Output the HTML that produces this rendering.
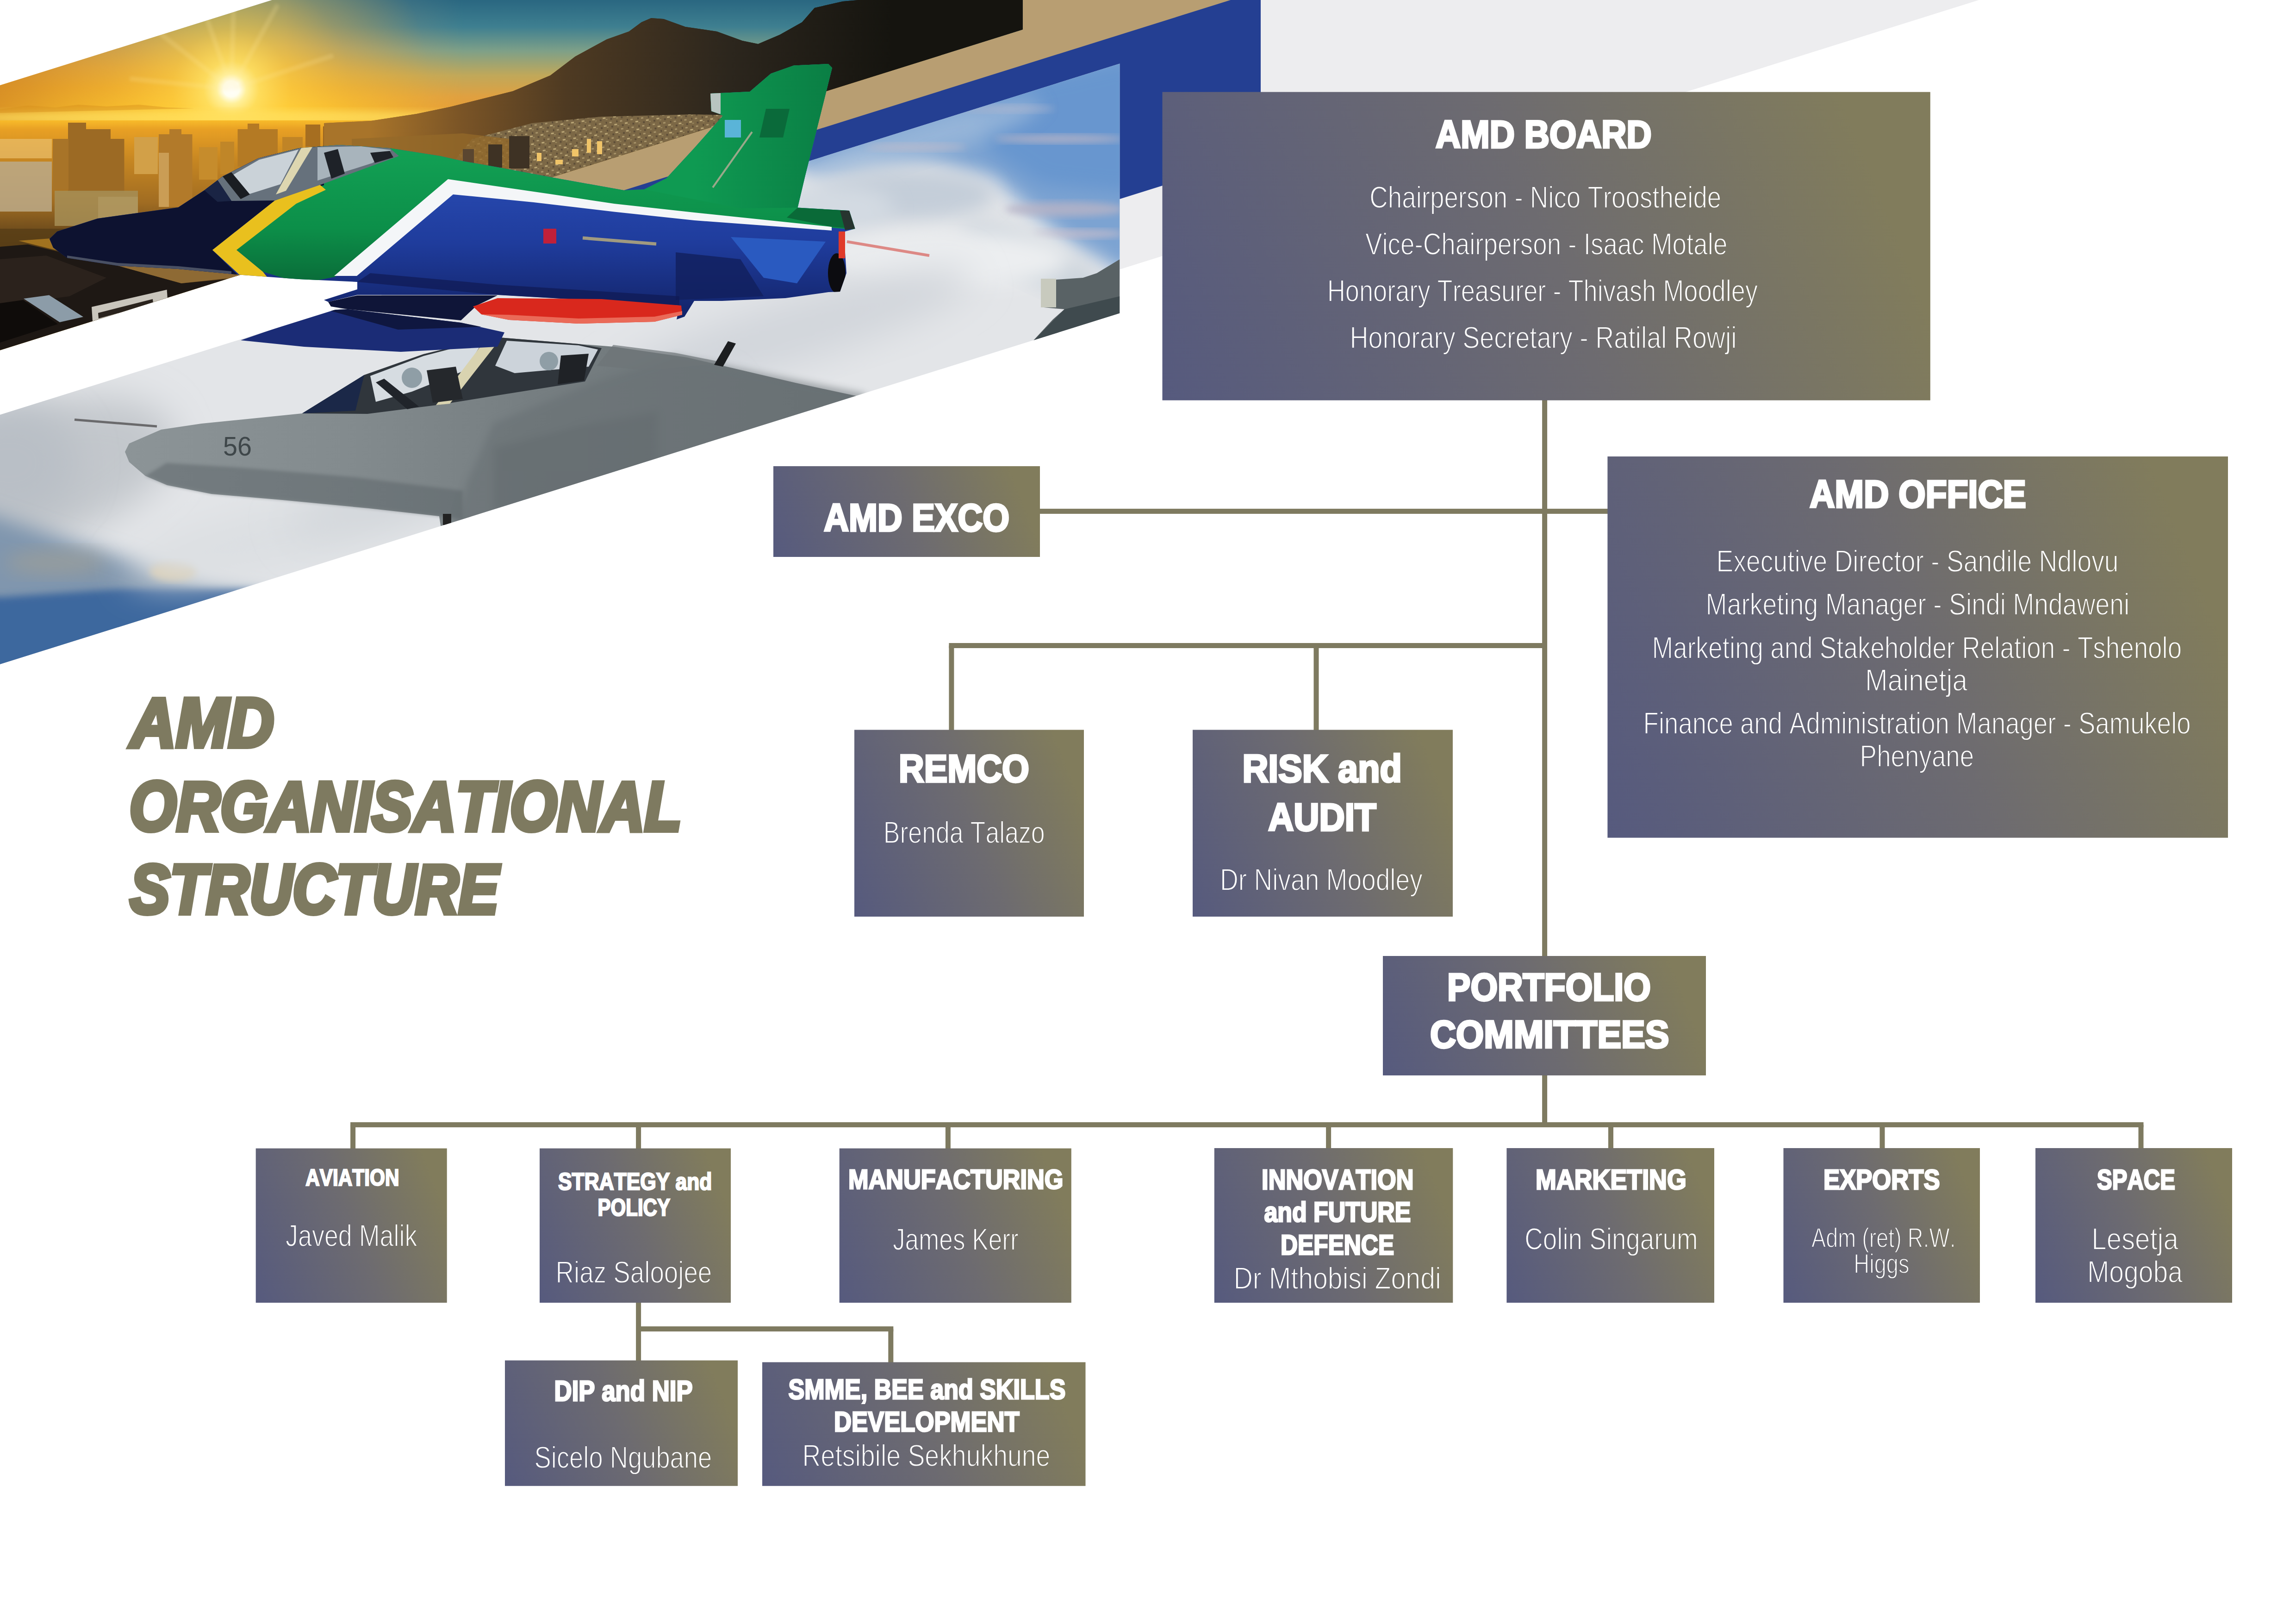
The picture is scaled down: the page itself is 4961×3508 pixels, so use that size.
<!DOCTYPE html>
<html><head><meta charset="utf-8"><title>AMD Organisational Structure</title>
<style>
html,body{margin:0;padding:0;background:#fff;}
body{width:4961px;height:3508px;overflow:hidden;font-family:"Liberation Sans",sans-serif;}
svg{display:block;font-family:"Liberation Sans",sans-serif;}
text{font-kerning:none;font-variant-ligatures:none;}
.tb{font-weight:bold;fill:#fff;stroke:#fff;stroke-linejoin:miter;}
.tr{font-weight:normal;fill:#fff;stroke-width:1.8px;}
.tt{font-weight:bold;font-style:italic;fill:#7e7a60;stroke:#7e7a60;stroke-width:10px;stroke-linejoin:miter;}
</style></head><body>
<svg width="4961" height="3508" viewBox="0 0 4961 3508">
<defs>
<linearGradient id="g_board" gradientUnits="userSpaceOnUse" x1="2512.3" y1="866.6" x2="4170.0" y2="196.8"><stop offset="0" stop-color="#565a7e"/><stop offset="0.5" stop-color="#6d6b70"/><stop offset="0.9" stop-color="#817c5c"/></linearGradient>
<linearGradient id="g_exco" gradientUnits="userSpaceOnUse" x1="1677.4" y1="1218.8" x2="2240.6" y2="991.2"><stop offset="0" stop-color="#565a7e"/><stop offset="0.5" stop-color="#6d6b70"/><stop offset="0.9" stop-color="#817c5c"/></linearGradient>
<linearGradient id="g_office" gradientUnits="userSpaceOnUse" x1="3424.4" y1="1688.4" x2="4863.0" y2="1107.2"><stop offset="0" stop-color="#565a7e"/><stop offset="0.5" stop-color="#6d6b70"/><stop offset="0.9" stop-color="#817c5c"/></linearGradient>
<linearGradient id="g_remco" gradientUnits="userSpaceOnUse" x1="1810.7" y1="1892.7" x2="2377.3" y2="1663.8"><stop offset="0" stop-color="#565a7e"/><stop offset="0.5" stop-color="#6d6b70"/><stop offset="0.9" stop-color="#817c5c"/></linearGradient>
<linearGradient id="g_risk" gradientUnits="userSpaceOnUse" x1="2546.4" y1="1904.2" x2="3169.6" y2="1652.3"><stop offset="0" stop-color="#565a7e"/><stop offset="0.5" stop-color="#6d6b70"/><stop offset="0.9" stop-color="#817c5c"/></linearGradient>
<linearGradient id="g_port" gradientUnits="userSpaceOnUse" x1="2992.2" y1="2333.3" x2="3681.8" y2="2054.7"><stop offset="0" stop-color="#565a7e"/><stop offset="0.5" stop-color="#6d6b70"/><stop offset="0.9" stop-color="#817c5c"/></linearGradient>
<linearGradient id="g_avi" gradientUnits="userSpaceOnUse" x1="523.8" y1="2742.4" x2="994.6" y2="2552.2"><stop offset="0" stop-color="#565a7e"/><stop offset="0.5" stop-color="#6d6b70"/><stop offset="0.9" stop-color="#817c5c"/></linearGradient>
<linearGradient id="g_strat" gradientUnits="userSpaceOnUse" x1="1137.1" y1="2742.4" x2="1607.9" y2="2552.2"><stop offset="0" stop-color="#565a7e"/><stop offset="0.5" stop-color="#6d6b70"/><stop offset="0.9" stop-color="#817c5c"/></linearGradient>
<linearGradient id="g_manu" gradientUnits="userSpaceOnUse" x1="1791.0" y1="2757.7" x2="2337.5" y2="2536.9"><stop offset="0" stop-color="#565a7e"/><stop offset="0.5" stop-color="#6d6b70"/><stop offset="0.9" stop-color="#817c5c"/></linearGradient>
<linearGradient id="g_inno" gradientUnits="userSpaceOnUse" x1="2602.0" y1="2760.0" x2="3161.1" y2="2534.0"><stop offset="0" stop-color="#565a7e"/><stop offset="0.5" stop-color="#6d6b70"/><stop offset="0.9" stop-color="#817c5c"/></linearGradient>
<linearGradient id="g_mark" gradientUnits="userSpaceOnUse" x1="3228.9" y1="2748.3" x2="3730.5" y2="2545.7"><stop offset="0" stop-color="#565a7e"/><stop offset="0.5" stop-color="#6d6b70"/><stop offset="0.9" stop-color="#817c5c"/></linearGradient>
<linearGradient id="g_exp" gradientUnits="userSpaceOnUse" x1="3825.3" y1="2744.2" x2="4306.2" y2="2549.8"><stop offset="0" stop-color="#565a7e"/><stop offset="0.5" stop-color="#6d6b70"/><stop offset="0.9" stop-color="#817c5c"/></linearGradient>
<linearGradient id="g_space" gradientUnits="userSpaceOnUse" x1="4369.8" y1="2744.2" x2="4851.2" y2="2549.8"><stop offset="0" stop-color="#565a7e"/><stop offset="0.5" stop-color="#6d6b70"/><stop offset="0.9" stop-color="#817c5c"/></linearGradient>
<linearGradient id="g_dip" gradientUnits="userSpaceOnUse" x1="1079.2" y1="3180.6" x2="1605.8" y2="2967.8"><stop offset="0" stop-color="#565a7e"/><stop offset="0.5" stop-color="#6d6b70"/><stop offset="0.9" stop-color="#817c5c"/></linearGradient>
<linearGradient id="g_smme" gradientUnits="userSpaceOnUse" x1="1649.6" y1="3216.2" x2="2342.9" y2="2936.1"><stop offset="0" stop-color="#565a7e"/><stop offset="0.5" stop-color="#6d6b70"/><stop offset="0.9" stop-color="#817c5c"/></linearGradient>
</defs>
<rect width="4961" height="3508" fill="#fff"/>
<defs>
<clipPath id="cTop"><polygon points="0,184.3 588,0 2209.7,0 2209.7,63.8 0,756.5"/></clipPath>
<clipPath id="cLow"><polygon points="0,896 2419.3,137.5 2419.3,676.5 0,1434.8"/></clipPath>
<linearGradient id="skyL" gradientUnits="userSpaceOnUse" x1="0" y1="0" x2="0" y2="262">
<stop offset="0" stop-color="#5a7f86"/><stop offset="0.2" stop-color="#7e8c7c"/><stop offset="0.38" stop-color="#b09a6a"/><stop offset="0.55" stop-color="#d8a64c"/>
<stop offset="0.72" stop-color="#f0b232"/><stop offset="0.88" stop-color="#fcc62e"/><stop offset="1" stop-color="#ffd83e"/></linearGradient>
<linearGradient id="skyR" gradientUnits="userSpaceOnUse" x1="0" y1="0" x2="0" y2="262">
<stop offset="0" stop-color="#2a6781"/><stop offset="0.22" stop-color="#3e7f90"/><stop offset="0.42" stop-color="#7ea088"/><stop offset="0.62" stop-color="#c0a85a"/><stop offset="0.8" stop-color="#e0a040"/><stop offset="1" stop-color="#e89a30"/></linearGradient>
<linearGradient id="mH" gradientUnits="userSpaceOnUse" x1="620" y1="0" x2="1000" y2="0"><stop offset="0" stop-color="#000"/><stop offset="1" stop-color="#fff"/></linearGradient>
<mask id="mRight" maskUnits="userSpaceOnUse" x="0" y="0" width="2300" height="800"><rect x="0" y="0" width="2300" height="800" fill="url(#mH)"/></mask>
<linearGradient id="leftO" gradientUnits="userSpaceOnUse" x1="0" y1="0" x2="430" y2="0"><stop offset="0" stop-color="#d08422" stop-opacity="0.75"/><stop offset="1" stop-color="#e09a28" stop-opacity="0"/></linearGradient>
<radialGradient id="sun" gradientUnits="userSpaceOnUse" cx="500" cy="192" r="430">
<stop offset="0" stop-color="#ffffff"/><stop offset="0.04" stop-color="#fffef0"/><stop offset="0.075" stop-color="#fff09a"/><stop offset="0.14" stop-color="#ffe060" stop-opacity="0.9"/>
<stop offset="0.3" stop-color="#ffd040" stop-opacity="0.6"/><stop offset="0.6" stop-color="#fcc030" stop-opacity="0.25"/><stop offset="1" stop-color="#f8b020" stop-opacity="0"/></radialGradient>
<linearGradient id="cityV" gradientUnits="userSpaceOnUse" x1="0" y1="255" x2="0" y2="560">
<stop offset="0" stop-color="#fcc22c"/><stop offset="0.08" stop-color="#e8a024"/><stop offset="0.3" stop-color="#c68622"/><stop offset="0.6" stop-color="#a06c22"/><stop offset="0.8" stop-color="#6e4c1c"/><stop offset="1" stop-color="#5a3e18"/></linearGradient>
<linearGradient id="mtn" gradientUnits="userSpaceOnUse" x1="800" y1="0" x2="2210" y2="0">
<stop offset="0" stop-color="#a8742a"/><stop offset="0.14" stop-color="#7a5426"/><stop offset="0.3" stop-color="#4e3a22"/><stop offset="0.55" stop-color="#2c261d"/><stop offset="0.8" stop-color="#15140f"/></linearGradient>
<linearGradient id="mtnV" gradientUnits="userSpaceOnUse" x1="0" y1="40" x2="0" y2="330">
<stop offset="0" stop-color="#1a1510" stop-opacity="0.5"/><stop offset="0.55" stop-color="#5a4020" stop-opacity="0.05"/><stop offset="1" stop-color="#a88040" stop-opacity="0.5"/></linearGradient>
<pattern id="lights" width="23" height="17" patternUnits="userSpaceOnUse" patternTransform="rotate(-8)">
<rect width="23" height="17" fill="#7c6846"/><rect x="2" y="2" width="5" height="3" fill="#a8946a"/><rect x="12" y="8" width="6" height="3" fill="#bca878"/><rect x="17" y="1" width="3" height="4" fill="#5c4c36"/><rect x="5" y="11" width="4" height="4" fill="#5e4e38"/><rect x="18" y="12" width="4" height="2" fill="#9c8a60"/></pattern>
<filter id="b8" x="-20%" y="-20%" width="140%" height="140%"><feGaussianBlur stdDeviation="8"/></filter>
<filter id="b20" x="-30%" y="-30%" width="160%" height="160%"><feGaussianBlur stdDeviation="20"/></filter>
<filter id="b40" x="-40%" y="-40%" width="180%" height="180%"><feGaussianBlur stdDeviation="40"/></filter>
<filter id="b3" x="-10%" y="-10%" width="120%" height="120%"><feGaussianBlur stdDeviation="3"/></filter>
<linearGradient id="greyjet" gradientUnits="userSpaceOnUse" x1="270" y1="0" x2="1860" y2="0">
<stop offset="0" stop-color="#8c9497"/><stop offset="0.3" stop-color="#838b8e"/><stop offset="0.55" stop-color="#767e81"/><stop offset="1" stop-color="#6a7275"/></linearGradient>
<linearGradient id="blueBody" gradientUnits="userSpaceOnUse" x1="0" y1="400" x2="0" y2="680">
<stop offset="0" stop-color="#2748ae"/><stop offset="0.45" stop-color="#1f3c9c"/><stop offset="1" stop-color="#13246a"/></linearGradient>
<linearGradient id="greenBody" gradientUnits="userSpaceOnUse" x1="0" y1="330" x2="0" y2="600">
<stop offset="0" stop-color="#12a054"/><stop offset="0.6" stop-color="#0c8f49"/><stop offset="1" stop-color="#0a6f3a"/></linearGradient>
<linearGradient id="finG" gradientUnits="userSpaceOnUse" x1="1500" y1="0" x2="1800" y2="0">
<stop offset="0" stop-color="#0f9a52"/><stop offset="1" stop-color="#0a7e44"/></linearGradient>
<clipPath id="cJet"><path id="jetShape" d="M107,516 L123.5,500 L211,472 L385,448 L441.5,411 L481,381 L559,341.5 L646,320 L733,313 L842,320 L951,337 L1000,348 L1080,362 L1191.6,383 L1348,411 L1392,409 L1440,385 L1500,320 L1562,250 L1554,246 L1537,240 L1535,202 L1620,198 L1665.5,159 L1715,141.6 L1789.7,138 L1798,146.6 L1740,378.7 L1723.5,448.6 L1835,455 L1847.6,494 L1826,500 L1826,545 L1829,590 L1815,630 L1790,631 L1697,644 L1560,650 L1500,650 L1479,684 L1462,690 L1468,660 L1075,637 L772,637 L709,652 L700,648 L772,625 L772,609 L646,603 L524,594 L385,581 L254,574 L145,557 L115,535 Z"/></clipPath>
</defs>

<!-- stripes -->
<polygon points="2419.3,0 4276,0 2419.3,582" fill="#ededef"/>
<polygon points="1240,0 2724,0 2724,334.5 1240,799.8" fill="#243f92"/>
<polygon points="1150,0 2659,0 1150,473" fill="#b89e72"/>

<!-- TOP BAND -->
<g clip-path="url(#cTop)">
<rect x="0" y="0" width="2210" height="770" fill="url(#skyL)"/>
<rect x="0" y="0" width="440" height="262" fill="url(#leftO)"/>
<rect x="0" y="0" width="2210" height="770" fill="url(#skyR)" mask="url(#mRight)"/>
<rect x="60" y="0" width="900" height="640" fill="url(#sun)"/>
<g stroke="#ffe9a0" stroke-width="10" opacity="0.2" filter="url(#b3)"><path d="M500,192 L440,20"/><path d="M500,192 L505,0"/><path d="M500,192 L600,10"/><path d="M500,192 L330,60"/><path d="M500,192 L720,120"/><path d="M500,192 L280,170"/></g>
<ellipse cx="470" cy="254" rx="640" ry="16" fill="#ffe060" opacity="0.7" filter="url(#b8)"/>
<path d="M0,236 L60,228 L120,232 L170,226 L230,230 L300,226 L360,232 L420,234 L0,244 Z" fill="#d8901c" opacity="0.45"/>
<!-- city -->
<rect x="0" y="260" width="1250" height="510" fill="url(#cityV)"/>
<rect x="0" y="300" width="112" height="42" fill="#e8bc68" opacity="0.75"/>
<g>
<path d="M147,416 V265 H186 V279 H239 V300 H268.5 V416 Z" fill="#9c6a24"/><rect x="114" y="300" width="34" height="110" fill="#a87428"/>
<path d="M343,447 V290 H366 V279 H392 V290 H415.5 V447 Z" fill="#b27a2a"/><rect x="343" y="330" width="22" height="117" fill="#cfa660" opacity="0.8"/>
<rect x="290" y="296" width="51" height="80" fill="#d2a048"/>
<path d="M513.5,360 V279 H535 V267 H560 V279 H600 V360 Z" fill="#b47a24"/>
<rect x="476" y="306" width="30" height="70" fill="#c08628"/><rect x="430" y="318" width="40" height="70" fill="#c68c2c"/>
<rect x="660" y="269" width="32" height="48" fill="#a66e20"/><rect x="698" y="273" width="47" height="44" fill="#9a641e"/>
<rect x="610" y="296" width="44" height="40" fill="#c08426"/><rect x="760" y="290" width="50" height="30" fill="#b47a24"/>
<rect x="890" y="276" width="72" height="56" fill="#6e4e24"/><rect x="973" y="302" width="38" height="38" fill="#7e5e32"/>
</g>
<rect x="0" y="349" width="112" height="108" fill="#bcaa88" opacity="0.85"/>
<rect x="118" y="412" width="180" height="76" fill="#a68e56" opacity="0.85"/>
<rect x="212" y="425" width="86" height="62" fill="#b29a62" opacity="0.7"/>
<path d="M0,494 H1000 V560 H0 Z" fill="#553c16" opacity="0.75"/>
<path d="M40,520 L250,505 L392,560 L392,612 L251,573 Z" fill="#a87820" opacity="0.9"/>
<!-- mountain -->
<path id="mt" d="M700,266 L802,261 L900,246 L972,231 L1040,214 L1108,197 L1189,163 L1243,122 L1311,85 L1359,68 L1386,48 L1407,39 L1434,41 L1481,58 L1549,68 L1604,88 L1638,95 L1685,75 L1733,48 L1760,17 L1821,3 L1855,0 L2210,0 L2210,420 L700,420 Z" fill="url(#mtn)"/>
<use href="#mt" fill="url(#mtnV)"/>
<path d="M1020,300 L1150,266 L1300,252 L1500,247 L1700,252 L1800,238 L1800,450 L900,450 Z" fill="url(#lights)"/>
<path d="M760,300 L1000,288 L1100,300 L1100,480 L760,480 Z" fill="#94692a" opacity="0.75"/>
<g fill="#3e3224"><rect x="1100" y="294" width="44" height="70"/><rect x="1055" y="312" width="30" height="50"/><rect x="1000" y="322" width="24" height="40" fill="#5a4630"/></g>
<g fill="#f0c468"><rect x="1268" y="300" width="9" height="30"/><rect x="1290" y="305" width="11" height="28"/><rect x="1160" y="330" width="10" height="18"/><rect x="1236" y="322" width="14" height="16"/><rect x="1200" y="345" width="16" height="10"/></g>
<!-- dark roofs -->
<path d="M0,533 L60,528 L251,573 L392,612 L520,600 L520,770 L0,770 Z" fill="#1e1814"/>
<path d="M251,573 L392,612 L521,598 L521,575 L400,566 L300,560 Z" fill="#8e6a34"/>
<path d="M0,560 L100,552 L230,600 L150,640 L0,660 Z" fill="#2b221c"/>
<path d="M51,645 L106,637.5 L180,684.5 L129,696 Z" fill="#8c9ca8"/>
<path d="M198,663 L360.6,625.7 L362,646 L200,694 Z" fill="#c9c5bc"/>
<path d="M212,676 L330,646 L331,656 L213,688 Z" fill="#2a231d"/>
<path d="M0,655 L50,648 L125,700 L0,740 Z" fill="#0f0c0a"/>
</g>

<!-- LOWER BAND -->
<g clip-path="url(#cLow)">
<rect x="0" y="130" width="2420" height="1310" fill="#e3e5e8"/>
<!-- sky upper right -->
<path d="M1640,300 L2460,40 L2460,610 L2380,560 L2300,515 L2210,440 L2150,385 L2000,345 L1870,335 L1745,372 Z" fill="#7ba3d2" filter="url(#b20)"/>
<path d="M2100,200 L2460,120 L2460,420 L2250,400 L2140,330 Z" fill="#6896cf" filter="url(#b20)"/>
<ellipse cx="2000" cy="300" rx="260" ry="40" fill="#9cb9da" opacity="0.8" filter="url(#b20)" transform="rotate(-17 2000 300)"/>
<ellipse cx="2290" cy="300" rx="140" ry="9" fill="#bcb6c6" opacity="0.8" filter="url(#b8)"/>
<ellipse cx="2300" cy="452" rx="130" ry="16" fill="#b8b4c6" opacity="0.8" filter="url(#b8)"/>
<ellipse cx="2330" cy="505" rx="100" ry="10" fill="#c2bccc" opacity="0.8" filter="url(#b8)"/>
<ellipse cx="1980" cy="318" rx="110" ry="8" fill="#c0bccb" opacity="0.7" filter="url(#b8)"/>
<ellipse cx="2180" cy="235" rx="100" ry="8" fill="#b6bacf" opacity="0.6" filter="url(#b8)"/>
<ellipse cx="1960" cy="420" rx="190" ry="55" fill="#c4ced9" filter="url(#b20)"/>
<ellipse cx="2230" cy="560" rx="170" ry="45" fill="#ccd4dc" filter="url(#b20)" transform="rotate(25 2230 560)"/>
<ellipse cx="1800" cy="450" rx="130" ry="50" fill="#d3dae2" filter="url(#b20)"/>
<ellipse cx="2050" cy="560" rx="260" ry="60" fill="#eceef0" filter="url(#b20)"/>
<ellipse cx="1700" cy="720" rx="420" ry="70" fill="#d2d6db" filter="url(#b40)" transform="rotate(-17 1700 720)"/>
<!-- left: shading, haze, ocean -->
<ellipse cx="60" cy="1030" rx="330" ry="150" fill="#c3c7cc" filter="url(#b40)" transform="rotate(-17 60 1030)"/>
<ellipse cx="20" cy="1000" rx="150" ry="130" fill="#b9bfc6" filter="url(#b40)"/>
<path d="M-80,1090 L130,1160 L305,1215 L435,1262 L600,1290 L-80,1520 Z" fill="#8096ae" filter="url(#b20)"/>
<path d="M-80,1280 L0,1290 L261,1272 L435,1272 L560,1272 L-80,1500 Z" fill="#3e689e" filter="url(#b8)"/>
<ellipse cx="374" cy="1234" rx="50" ry="20" fill="#d8c294" filter="url(#b8)"/>
<ellipse cx="120" cy="1215" rx="110" ry="26" fill="#a8a290" opacity="0.55" filter="url(#b20)"/>
<ellipse cx="600" cy="1160" rx="330" ry="70" fill="#dcdfe2" filter="url(#b40)" transform="rotate(-12 600 1160)"/>
<ellipse cx="1100" cy="1000" rx="500" ry="60" fill="#d2d6da" filter="url(#b40)" transform="rotate(-17 1100 1000)"/>
<!-- third jet -->
<path d="M2282,604 L2340,600 L2370,590 L2419.5,560 L2419.5,690 L2224,745 L2275,690 L2300,668 L2255,664 L2249,602 Z" fill="#596265"/>
<rect x="2249" y="602" width="33" height="62" fill="#c8cabe"/>
<path d="M2300,668 L2419.5,640 L2419.5,690 L2224,745 Z" fill="#3f4a4e"/>
<!-- grey jet -->
<path d="M161,906.5 L339,921" stroke="#6a6a6c" stroke-width="5"/>
<path d="M270,976 L279,958 L348,928 L435,915 L653,893 L787,810 L915,765 L1067,728 L1250,743 L1327,749 L1484,772 L1719,827 L1900,866 L1900,900 L960,1190 L949,1115 L797,1098 L610,1080 L457,1067 L361,1048 L314,1028 L279,998 Z" fill="url(#greyjet)"/>
<path d="M314,1028 L361,1048 L457,1067 L610,1080 L797,1098 L949,1115 L1000,1122 L1000,1060 L760,1030 L520,1010 L360,1000 Z" fill="#586165" opacity="0.45" filter="url(#b3)"/>
<path d="M1067,966 L1250,920 L1420,890 L1420,1070 L1067,1100 Z" fill="#5d6569" opacity="0.5" filter="url(#b8)"/>
<path d="M1066,914 L1270,832 L1458,768 L1866,850 L1900,900 L970,1180 L1010,1040 Z" fill="#687073" opacity="0.55" filter="url(#b8)"/>
<path d="M1325,745 L1458,762 L1569,784 L1400,800 L1290,790 Z" fill="#6d7578" opacity="0.7"/>
<!-- canopy -->
<path d="M653,893 L787,810 L915,765 L1067,728 L1250,743 L1300,752 L1264,824 L1100,850 L951,874 L794,894 Z" fill="#30363c"/>
<path d="M653,893 L787,810 L768,887 Z" fill="#1b2848"/>
<path d="M800,812 L915,769 L1045,735 L1005,800 L890,846 L812,868 Z" fill="#d6dce1"/>
<path d="M1095,736 L1250,746 L1292,755 L1272,792 L1112,806 L1070,790 Z" fill="#ccd3da"/>
<path d="M1052,730 L1082,731 L972,872 L942,875 Z" fill="#d9d3b0"/>
<path d="M812,826 L830,818 L905,878 L880,884 Z" fill="#20242a"/>
<circle cx="890" cy="816" r="22" fill="#8f9ea6"/><circle cx="1186" cy="780" r="20" fill="#8f9ea6"/>
<path d="M922,800 L985,792 L1000,862 L935,870 Z" fill="#25282c"/><path d="M1212,768 L1272,764 L1262,822 L1205,830 Z" fill="#1f2226"/>
<path d="M1543,788 L1573,737 L1590,742 L1562,792 Z" fill="#1c1e20"/>
<rect x="957" y="1110" width="18" height="24" fill="#222"/>
<text x="482" y="984" font-size="58" font-family="Liberation Sans, sans-serif" fill="#3f474a" textLength="62" lengthAdjust="spacingAndGlyphs">56</text>
<!-- navy lower wing of flag jet -->
<path d="M520,735 L709,670 L751,668 L996,697 L1090,718 L1075,749 L866,760 L657,749 Z" fill="#1b2c76"/>
<path d="M709,670 L751,668 L996,697 L1040,706 L860,712 Z" fill="#0f1740"/>
</g>

<!-- FLAG JET overlay -->
<path d="M1830,522 L2008,552" stroke="#d8605a" stroke-width="6" opacity="0.7"/>
<use href="#jetShape" fill="url(#blueBody)"/>
<g clip-path="url(#cJet)">
<path d="M511,540 L568,587 L650,612 L724.6,598 L968,390 L1188,422 L1327,443 L1500,462 L1797,492 L1900,500 L1900,100 L600,100 L600,440 Z" fill="url(#greenBody)"/>
<path d="M1392,409 L1440,385 L1500,320 L1562,250 L1535,240 L1535,190 L1620,198 L1665.5,159 L1715,130 L1810,130 L1740,378.7 L1723.5,448.6 L1600,450 Z" fill="url(#finG)"/>
<path d="M722,596 L968,387 L1188,419 L1327,440 L1500,459 L1797,490 L1797,498 L1500,476 L1327,457.5 L1153,437 L979,420 L771,596 Z" fill="#f4f6f8"/>
<path d="M90,560 L90,480 L700,300 L700,400 L594,433 L459,540 L520,600 L90,600 Z" fill="#0d1230"/>
<path d="M145,552 L254,568 L385,575 L500,586 L500,596 L385,583 L254,576 L145,559 Z" fill="#596070" opacity="0.8"/>
<path d="M459,540 L594,433 L690,398 L704,410 L640,440 L511,540 L568,587 L580,602 L520,596 Z" fill="#e9c01e"/>
<path d="M470,389 L481,381 L559,341.5 L646,320 L733,313 L842,320 L862,337 L690,400 L594,433 L500,434 Z" fill="#66717c"/><path d="M441.5,411 L470,389 L500,434 L470,436 Z" fill="#1a2444"/>
<path d="M496,382 L560,345 L645,323 L606,398 L520,425 Z" fill="#d5dde2" opacity="0.9"/>
<path d="M686,318 L780,316 L845,324 L805,352 L686,390 Z" fill="#b4c0c8" opacity="0.85"/>
<path d="M652,318 L676,316 L618,412 L596,420 Z" fill="#ddd6b0"/>
<path d="M481,381 L500,372 L540,420 L520,430 Z" fill="#1a1d22"/>
<path d="M700,330 L730,322 L745,375 L716,386 Z" fill="#1e2228"/><path d="M800,330 L842,326 L850,340 L810,352 Z" fill="#1e2228"/>
<path d="M1655,235 L1706,235 L1692,297 L1641,297 Z" fill="#0a6a3a"/>
<rect x="1566" y="259" width="35" height="38" fill="#5ab4d8"/>
<rect x="1535" y="200" width="22" height="46" fill="#b8c4c0"/>
<path d="M1540,405 L1625,285" stroke="#9aa88a" stroke-width="4"/>
<path d="M1723,449 L1835,455 L1847.6,494 L1797,490 L1700,470 Z" fill="#0a6a38"/>
<path d="M1815,455 L1835,455 L1847.6,494 L1826,497 Z" fill="#27342f"/>
<path d="M1579,512 L1784,522 L1722,612 L1650,600 Z" fill="#2a5ac0"/>
<path d="M1460,545 L1600,560 L1650,640 L1460,648 Z" fill="#121f5c" opacity="0.8"/>
<rect x="1174" y="494" width="28" height="32" fill="#c0203a"/>
<path d="M1259,514 L1418,527" stroke="#a09a80" stroke-width="7"/>
<ellipse cx="1808" cy="590" rx="19" ry="43" fill="#0c0c10"/>
<rect x="1812" y="500" width="14" height="58" fill="#e03a2a"/>
<path d="M772,609 L1075,637 L1468,660 L1468,640 L1075,615 L800,590 Z" fill="#101a52" opacity="0.7"/>
</g>
<path d="M709,652 L772,638 L1075,638 L1030,660 L996,692 L751,668 L715,662 Z" fill="#0f1538"/>
<path d="M1022,662 L1075,644 L1300,646 L1472,660 L1474,680 L1414,695 L1250,699 L1100,691 L1040,679 Z" fill="#d9281d"/>
<path d="M1040,679 L1100,680 L1250,688 L1414,684 L1474,672 L1474,680 L1414,695 L1250,699 L1100,691 Z" fill="#ea6a58"/>

<g fill="#7e7a60">
<rect x="3332.1" y="860.0" width="11" height="1210.0" />
<rect x="3332.1" y="2320.0" width="11" height="115.0" />
<rect x="2245.0" y="1098.9" width="1230.0" height="11" />
<rect x="2050.4" y="1389.0" width="1287.2" height="11" />
<rect x="2050.4" y="1394.5" width="11" height="185.5" />
<rect x="2838.5" y="1394.5" width="11" height="185.5" />
<rect x="757.1" y="2424.1" width="3874.4" height="11" />
<rect x="757.1" y="2429.6" width="11" height="54.4" />
<rect x="1374.1" y="2429.6" width="11" height="54.4" />
<rect x="2042.9" y="2429.6" width="11" height="54.4" />
<rect x="2865.1" y="2429.6" width="11" height="54.4" />
<rect x="3475.0" y="2429.6" width="11" height="54.4" />
<rect x="4061.5" y="2429.6" width="11" height="54.4" />
<rect x="4620.5" y="2429.6" width="11" height="54.4" />
<rect x="1374.1" y="2810.0" width="11" height="132.0" />
<rect x="1379.6" y="2865.1" width="550.7" height="11" />
<rect x="1919.3" y="2870.6" width="11" height="75.4" />
</g>
<rect x="2511.5" y="198.7" width="1659.3" height="666.0" fill="url(#g_board)"/>
<rect x="1671.0" y="1007.0" width="576.0" height="196.0" fill="url(#g_exco)"/>
<rect x="3473.4" y="986.0" width="1340.6" height="823.6" fill="url(#g_office)"/>
<rect x="1846.0" y="1576.5" width="496.0" height="403.5" fill="url(#g_remco)"/>
<rect x="2577.0" y="1576.5" width="562.0" height="403.5" fill="url(#g_risk)"/>
<rect x="2988.0" y="2065.0" width="698.0" height="258.0" fill="url(#g_port)"/>
<rect x="552.7" y="2480.6" width="413.0" height="333.4" fill="url(#g_avi)"/>
<rect x="1166.0" y="2480.6" width="413.0" height="333.4" fill="url(#g_strat)"/>
<rect x="1813.7" y="2480.6" width="501.1" height="333.4" fill="url(#g_manu)"/>
<rect x="2623.8" y="2480.0" width="515.5" height="334.0" fill="url(#g_inno)"/>
<rect x="3255.4" y="2480.0" width="448.6" height="334.0" fill="url(#g_mark)"/>
<rect x="3853.5" y="2480.0" width="424.5" height="334.0" fill="url(#g_exp)"/>
<rect x="4398.0" y="2480.0" width="425.0" height="334.0" fill="url(#g_space)"/>
<rect x="1091.0" y="2938.6" width="503.0" height="271.2" fill="url(#g_dip)"/>
<rect x="1647.0" y="2942.5" width="698.5" height="267.3" fill="url(#g_smme)"/>
<text x="3102.1" y="318.7" textLength="466.6" lengthAdjust="spacingAndGlyphs" font-size="82.8" class="tb" stroke-width="4.3">AMD BOARD</text>
<text x="2959.3" y="448.9" textLength="760.0" lengthAdjust="spacingAndGlyphs" font-size="66.3" class="tr" stroke="url(#g_board)">Chairperson - Nico Troostheide</text>
<text x="2949.9" y="549.9" textLength="782.5" lengthAdjust="spacingAndGlyphs" font-size="66.3" class="tr" stroke="url(#g_board)">Vice-Chairperson - Isaac Motale</text>
<text x="2867.7" y="650.9" textLength="930.3" lengthAdjust="spacingAndGlyphs" font-size="66.3" class="tr" stroke="url(#g_board)">Honorary Treasurer - Thivash Moodley</text>
<text x="2916.5" y="752.4" textLength="836.1" lengthAdjust="spacingAndGlyphs" font-size="66.3" class="tr" stroke="url(#g_board)">Honorary Secretary - Ratilal Rowji</text>
<text x="1780.3" y="1146.8" textLength="400.7" lengthAdjust="spacingAndGlyphs" font-size="82.8" class="tb" stroke-width="4.3">AMD EXCO</text>
<text x="3910.3" y="1095.5" textLength="467.5" lengthAdjust="spacingAndGlyphs" font-size="82.8" class="tb" stroke-width="4.3">AMD OFFICE</text>
<text x="3708.6" y="1234.6" textLength="869.0" lengthAdjust="spacingAndGlyphs" font-size="66.3" class="tr" stroke="url(#g_office)">Executive Director - Sandile Ndlovu</text>
<text x="3685.6" y="1328.4" textLength="915.7" lengthAdjust="spacingAndGlyphs" font-size="66.3" class="tr" stroke="url(#g_office)">Marketing Manager - Sindi Mndaweni</text>
<text x="3569.6" y="1421.6" textLength="1144.6" lengthAdjust="spacingAndGlyphs" font-size="66.3" class="tr" stroke="url(#g_office)">Marketing and Stakeholder Relation - Tshenolo</text>
<text x="4030.0" y="1491.6" textLength="220.9" lengthAdjust="spacingAndGlyphs" font-size="66.3" class="tr" stroke="url(#g_office)">Mainetja</text>
<text x="3550.6" y="1585.4" textLength="1183.1" lengthAdjust="spacingAndGlyphs" font-size="66.3" class="tr" stroke="url(#g_office)">Finance and Administration Manager - Samukelo</text>
<text x="4018.6" y="1655.9" textLength="246.7" lengthAdjust="spacingAndGlyphs" font-size="66.3" class="tr" stroke="url(#g_office)">Phenyane</text>
<text x="1942.1" y="1689.3" textLength="281.7" lengthAdjust="spacingAndGlyphs" font-size="82.8" class="tb" stroke-width="4.3">REMCO</text>
<text x="1908.7" y="1820.9" textLength="349.0" lengthAdjust="spacingAndGlyphs" font-size="66.3" class="tr" stroke="url(#g_remco)">Brenda Talazo</text>
<text x="2684.6" y="1689.3" textLength="344.2" lengthAdjust="spacingAndGlyphs" font-size="82.8" class="tb" stroke-width="4.3">RISK and</text>
<text x="2740.2" y="1793.8" textLength="233.4" lengthAdjust="spacingAndGlyphs" font-size="82.8" class="tb" stroke-width="4.3">AUDIT</text>
<text x="2636.1" y="1923.3" textLength="437.6" lengthAdjust="spacingAndGlyphs" font-size="66.3" class="tr" stroke="url(#g_risk)">Dr Nivan Moodley</text>
<text x="3127.1" y="2160.8" textLength="439.9" lengthAdjust="spacingAndGlyphs" font-size="82.8" class="tb" stroke-width="4.3">PORTFOLIO</text>
<text x="3090.0" y="2263.3" textLength="516.4" lengthAdjust="spacingAndGlyphs" font-size="82.8" class="tb" stroke-width="4.3">COMMITTEES</text>
<text x="660.2" y="2560.7" textLength="202.3" lengthAdjust="spacingAndGlyphs" font-size="49.2" class="tb" stroke-width="2.6">AVIATION</text>
<text x="617.1" y="2692.3" textLength="284.3" lengthAdjust="spacingAndGlyphs" font-size="66.3" class="tr" stroke="url(#g_avi)">Javed Malik</text>
<text x="1206.0" y="2570.3" textLength="332.4" lengthAdjust="spacingAndGlyphs" font-size="51.2" class="tb" stroke-width="2.6">STRATEGY and</text>
<text x="1291.5" y="2625.7" textLength="156.5" lengthAdjust="spacingAndGlyphs" font-size="51.2" class="tb" stroke-width="2.6">POLICY</text>
<text x="1200.6" y="2770.9" textLength="337.7" lengthAdjust="spacingAndGlyphs" font-size="66.3" class="tr" stroke="url(#g_strat)">Riaz Saloojee</text>
<text x="1832.9" y="2568.1" textLength="464.5" lengthAdjust="spacingAndGlyphs" font-size="59.5" class="tb" stroke-width="3.1">MANUFACTURING</text>
<text x="1928.9" y="2699.9" textLength="271.9" lengthAdjust="spacingAndGlyphs" font-size="66.3" class="tr" stroke="url(#g_manu)">James Kerr</text>
<text x="2726.1" y="2569.4" textLength="328.4" lengthAdjust="spacingAndGlyphs" font-size="60.5" class="tb" stroke-width="3.1">INNOVATION</text>
<text x="2731.5" y="2639.4" textLength="316.9" lengthAdjust="spacingAndGlyphs" font-size="60.5" class="tb" stroke-width="3.1">and FUTURE</text>
<text x="2767.1" y="2709.9" textLength="245.0" lengthAdjust="spacingAndGlyphs" font-size="60.5" class="tb" stroke-width="3.1">DEFENCE</text>
<text x="2665.4" y="2783.5" textLength="448.3" lengthAdjust="spacingAndGlyphs" font-size="66.3" class="tr" stroke="url(#g_inno)">Dr Mthobisi Zondi</text>
<text x="3318.0" y="2569.4" textLength="325.8" lengthAdjust="spacingAndGlyphs" font-size="60.5" class="tb" stroke-width="3.1">MARKETING</text>
<text x="3294.3" y="2698.9" textLength="374.2" lengthAdjust="spacingAndGlyphs" font-size="66.3" class="tr" stroke="url(#g_mark)">Colin Singarum</text>
<text x="3940.0" y="2569.4" textLength="251.5" lengthAdjust="spacingAndGlyphs" font-size="60.5" class="tb" stroke-width="3.1">EXPORTS</text>
<text x="3914.0" y="2693.6" textLength="311.7" lengthAdjust="spacingAndGlyphs" font-size="58.6" class="tr" stroke="url(#g_exp)">Adm (ret) R.W.</text>
<text x="4005.2" y="2749.9" textLength="120.4" lengthAdjust="spacingAndGlyphs" font-size="58.6" class="tr" stroke="url(#g_exp)">Higgs</text>
<text x="4531.1" y="2569.4" textLength="168.7" lengthAdjust="spacingAndGlyphs" font-size="60.5" class="tb" stroke-width="3.1">SPACE</text>
<text x="4519.3" y="2698.9" textLength="187.6" lengthAdjust="spacingAndGlyphs" font-size="66.3" class="tr" stroke="url(#g_space)">Lesetja</text>
<text x="4509.9" y="2769.9" textLength="206.0" lengthAdjust="spacingAndGlyphs" font-size="66.3" class="tr" stroke="url(#g_space)">Mogoba</text>
<text x="1197.6" y="3026.1" textLength="299.1" lengthAdjust="spacingAndGlyphs" font-size="62.3" class="tb" stroke-width="3.2">DIP and NIP</text>
<text x="1154.6" y="3171.4" textLength="383.7" lengthAdjust="spacingAndGlyphs" font-size="66.3" class="tr" stroke="url(#g_dip)">Sicelo Ngubane</text>
<text x="1703.5" y="3022.4" textLength="598.9" lengthAdjust="spacingAndGlyphs" font-size="60.5" class="tb" stroke-width="3.1">SMME, BEE and SKILLS</text>
<text x="1802.0" y="3092.4" textLength="400.7" lengthAdjust="spacingAndGlyphs" font-size="60.5" class="tb" stroke-width="3.1">DEVELOPMENT</text>
<text x="1733.6" y="3166.6" textLength="535.8" lengthAdjust="spacingAndGlyphs" font-size="66.3" class="tr" stroke="url(#g_smme)">Retsibile Sekhukhune</text>
<text x="281.8" y="1612.7" textLength="310.1" lengthAdjust="spacingAndGlyphs" font-size="149.5" class="tt">AMD</text>
<text x="279.6" y="1793.8" textLength="1193.1" lengthAdjust="spacingAndGlyphs" font-size="149.5" class="tt">ORGANISATIONAL</text>
<text x="280.8" y="1972.5" textLength="796.4" lengthAdjust="spacingAndGlyphs" font-size="149.5" class="tt">STRUCTURE</text>
</svg>
</body></html>
